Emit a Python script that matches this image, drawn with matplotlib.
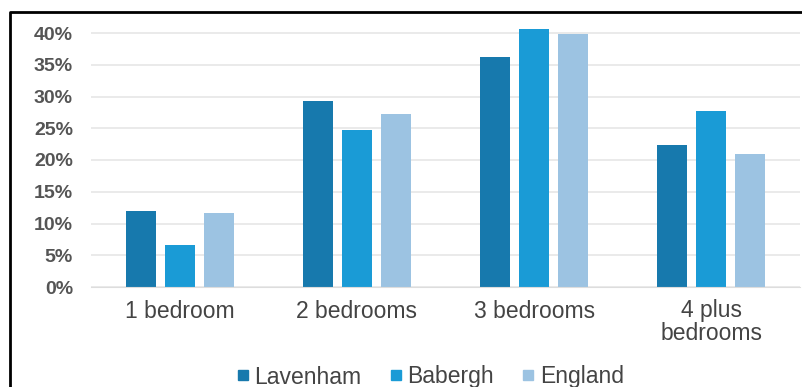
import numpy as np
import matplotlib.pyplot as plt
from matplotlib.lines import Line2D

# =============================================================================
# Data
# =============================================================================
categories = ['1 bedroom', '2 bedrooms', '3 bedrooms', '4 plus\nbedrooms']
lavenham   = [12.0, 29.3, 36.2, 22.4]
babergh    = [6.6, 24.7, 40.6, 27.7]
england    = [11.7, 27.2, 39.8, 20.9]

series = ['Lavenham', 'Babergh', 'England']
colors = ['#1779ad', '#1a9bd6', '#9cc3e2']

# =============================================================================
# Plot
# =============================================================================
plt.rcParams['font.family'] = ['Liberation Sans', 'DejaVu Sans']

# 40% sits at y=33 px, 0% at y=287 px -> 6.35 px per percent
ymax   = 41.5
px_pct = (287 - 33) / 40
fig = plt.figure(figsize=(8.03, 3.87), dpi=100)
ax  = fig.add_axes([91/803, 1 - 287/387, (800 - 91)/803, ymax*px_pct/387])

x     = np.arange(len(categories))
width = 0.17
pitch = 0.22
for i, (vals, col) in enumerate(zip([lavenham, babergh, england], colors)):
    ax.bar(x + (i - 1)*pitch, vals, width, color=col, zorder=2)

ax.set_xlim(-0.5, 3.5)
ax.set_ylim(0, ymax)
ax.set_yticks(range(0, 41, 5))
ax.set_yticklabels([f'{v}%' for v in range(0, 41, 5)],
                   fontsize=14, fontweight='bold', color='#555555')
ax.set_xticks(x)
ax.set_xticklabels(categories, fontsize=16.5, color='#444444', linespacing=1.0)
ax.tick_params(length=0, axis='y', pad=13)
ax.tick_params(length=0, axis='x', pad=9)
ax.grid(axis='y', color='#e6e6e6', linewidth=1.2, zorder=0)
for s in ['top', 'right', 'left']:
    ax.spines[s].set_visible(False)
ax.spines['bottom'].set_color('#dddddd')

# legend
handles = [Line2D([], [], marker='s', linestyle='', color=c, markersize=7)
           for c in colors]
fig.legend(handles, series, loc='center', bbox_to_anchor=(422/803, 1 - 377/387),
           ncol=3, frameon=False, fontsize=16.5, handletextpad=-0.5,
           columnspacing=0.5, labelcolor='#444444')

# border (left and top)
fig.add_artist(Line2D([10/803, 10/803, 1], [0, 1 - 12/387, 1 - 12/387],
                      transform=fig.transFigure, color='black', linewidth=2))

fig.savefig('out.png', dpi=100)
